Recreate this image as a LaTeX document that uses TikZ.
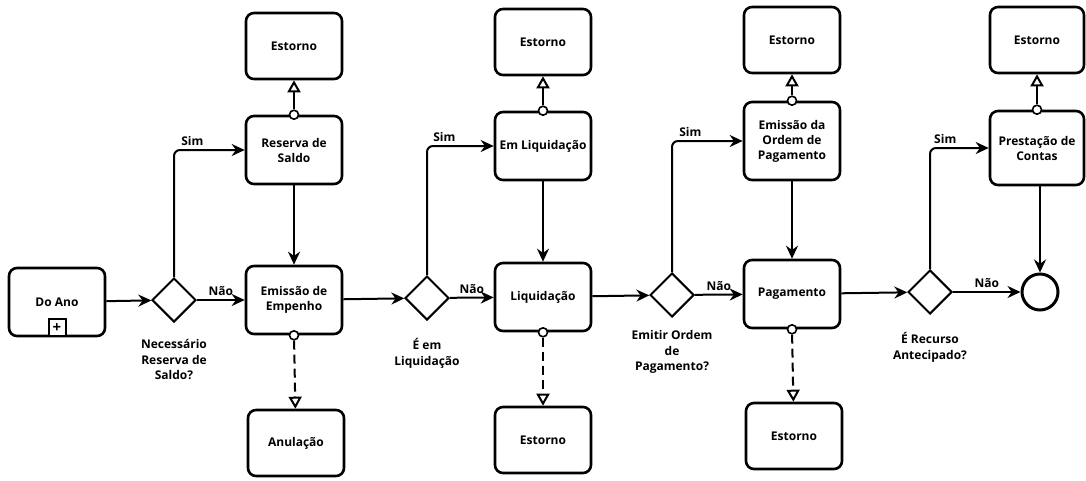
\documentclass[tikz,border=0pt]{standalone}
\usepackage{fontspec}
\setmainfont{Open Sans}
\usetikzlibrary{arrows.meta,shapes.geometric,positioning}

\tikzset{
  tarefa/.style={draw,line width=2.6pt,rounded corners=8pt,fill=white,
    minimum width=96pt,minimum height=68pt,align=center,
    font=\bfseries\fontsize{12}{15}\selectfont},
  decisao/.style={draw,line width=2pt,diamond,fill=white,
    minimum width=44pt,minimum height=44pt,inner sep=0pt},
  rotulo/.style={align=center,font=\bfseries\fontsize{12}{15.5}\selectfont},
  fluxo/.style={line width=2pt,-{Stealth[length=13pt,width=12pt]}},
  assoc/.style={line width=2pt,-{Triangle[open,length=12pt,width=13pt]}},
  limite/.style={draw,circle,line width=1.6pt,fill=white,inner sep=0pt,
    minimum size=9pt}
}

\begin{document}
\begin{tikzpicture}[x=1pt,y=-1pt]
  \useasboundingbox (0,0) rectangle (1086,480);

  % linha principal
  \node[tarefa] (doano) at (57,302) {Do Ano};
  \node[draw,line width=2pt,fill=white,minimum size=17pt,inner sep=0pt,
        anchor=south,font=\bfseries\fontsize{15}{15}\selectfont]
        (mais) at (doano.south) {+};
  \node[decisao] (d1) at (174,300) {};
  \node[tarefa] (empenho) at (294,300) {Emissão de\\Empenho};
  \node[decisao] (d2) at (427,298) {};
  \node[tarefa] (liq) at (543,297) {Liquidação};
  \node[decisao] (d3) at (672,295) {};
  \node[tarefa] (pag) at (792,294) {Pagamento};
  \node[decisao] (d4) at (930,292) {};
  \node[draw,circle,line width=3pt,minimum size=36pt] (fim) at (1040,292) {};

  % ramos "Sim"
  \node[tarefa] (reserva) at (294,150) {Reserva de\\Saldo};
  \node[tarefa] (emliq) at (543,146) {Em Liquidação};
  \node[tarefa,minimum height=78pt] (ordem) at (792,141)
    {Emissão da\\Ordem de\\Pagamento};
  \node[tarefa,minimum width=94pt,minimum height=74pt] (prest) at (1037,148)
    {Prestação de\\Contas};

  % estornos e anulacao
  \node[tarefa,minimum height=66pt] (est1) at (294,46) {Estorno};
  \node[tarefa,minimum height=66pt] (est2) at (543,42) {Estorno};
  \node[tarefa,minimum height=66pt] (est3) at (792,40) {Estorno};
  \node[tarefa,minimum width=94pt,minimum height=66pt] (est4) at (1037,40) {Estorno};
  \node[tarefa,minimum height=66pt] (anul) at (296,443) {Anulação};
  \node[tarefa,minimum height=66pt] (est2b) at (543,440) {Estorno};
  \node[tarefa,minimum height=66pt] (est3b) at (794,436) {Estorno};

  % fluxos
  \draw[fluxo] (doano) -- (d1);
  \draw[fluxo] (d1) -- node[above,rotulo] {Não} (empenho);
  \draw[fluxo,rounded corners=6pt] (d1.north) |- node[pos=0.63,above,rotulo] {Sim} (reserva.west);
  \draw[fluxo] (reserva) -- (empenho);
  \draw[fluxo] (empenho) -- (d2);
  \draw[fluxo] (d2) -- node[above,rotulo] {Não} (liq);
  \draw[fluxo,rounded corners=6pt] (d2.north) |- node[pos=0.63,above,rotulo] {Sim} (emliq.west);
  \draw[fluxo] (emliq) -- (liq);
  \draw[fluxo] (liq) -- (d3);
  \draw[fluxo] (d3) -- node[above,rotulo] {Não} (pag);
  \draw[fluxo,rounded corners=6pt] (d3.north) |- node[pos=0.63,above,rotulo] {Sim} (ordem.west);
  \draw[fluxo] (ordem) -- (pag);
  \draw[fluxo] (pag) -- (d4);
  \draw[fluxo] (d4) -- node[above,rotulo] {Não} (fim);
  \draw[fluxo,rounded corners=6pt] (d4.north) |- node[pos=0.63,above,rotulo] {Sim} (prest.west);
  \draw[fluxo] (prest.south -| fim) -- (fim);

  % eventos de limite
  \foreach \t/\e in {reserva/est1,emliq/est2,ordem/est3,prest/est4}{
    \node[limite] (c\t) at (\t.north) {};
    \draw[assoc] (c\t) -- (\e);
  }
  \foreach \t/\e in {empenho/anul,liq/est2b,pag/est3b}{
    \node[limite] (c\t) at (\t.south) {};
    \draw[assoc,dash pattern=on 9pt off 5pt] (c\t) -- (\e);
  }

  % perguntas
  \node[rotulo,below=13pt of d1] {Necessário\\Reserva de\\Saldo?};
  \node[rotulo,below=14pt of d2] {É em\\Liquidação};
  \node[rotulo,below=9pt of d3] {Emitir Ordem\\de\\Pagamento?};
  \node[rotulo,below=14pt of d4] {É Recurso\\Antecipado?};
\end{tikzpicture}
\end{document}
